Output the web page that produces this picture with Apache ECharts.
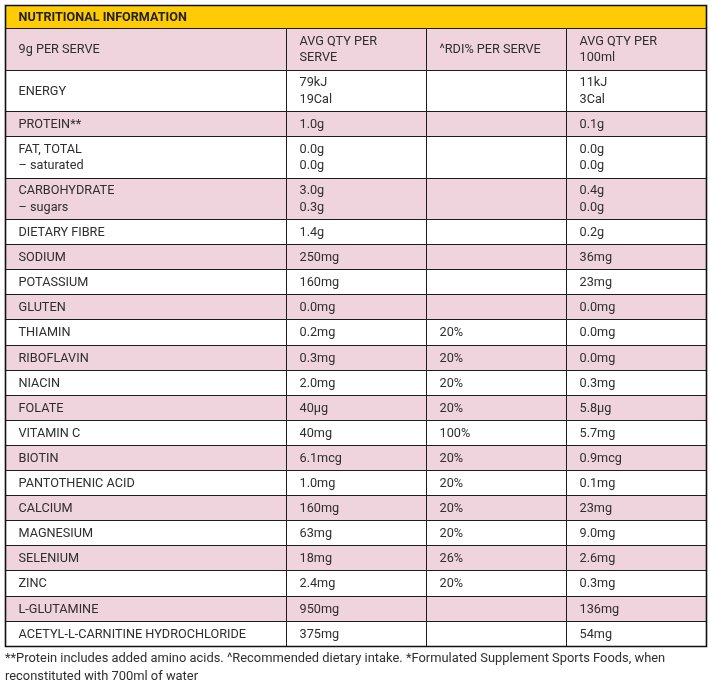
<!DOCTYPE html>
<html>
<head>
<meta charset="utf-8">
<script src="https://cdn.jsdelivr.net/npm/echarts@6/dist/echarts.min.js"></script>
<style>
  html, body { margin: 0; padding: 0; background: #fff; }
  #main { width: 710px; height: 680px; }
</style>
</head>
<body>
<div id="main"></div>
<script>
// table contents
const tableTitle = 'NUTRITIONAL INFORMATION';
const headers = ['9g PER SERVE', 'AVG QTY PER\nSERVE', '^RDI% PER SERVE', 'AVG QTY PER\n100ml'];
const nutrients = [
  'ENERGY', 'PROTEIN**', 'FAT, TOTAL\n– saturated', 'CARBOHYDRATE\n– sugars', 'DIETARY FIBRE',
  'SODIUM', 'POTASSIUM', 'GLUTEN', 'THIAMIN', 'RIBOFLAVIN', 'NIACIN', 'FOLATE', 'VITAMIN C',
  'BIOTIN', 'PANTOTHENIC ACID', 'CALCIUM', 'MAGNESIUM', 'SELENIUM', 'ZINC', 'L-GLUTAMINE',
  'ACETYL-L-CARNITINE HYDROCHLORIDE',
];
const perServe = [
  '79kJ\n19Cal', '1.0g', '0.0g\n0.0g', '3.0g\n0.3g', '1.4g', '250mg', '160mg', '0.0mg', '0.2mg',
  '0.3mg', '2.0mg', '40μg', '40mg', '6.1mcg', '1.0mg', '160mg', '63mg', '18mg', '2.4mg', '950mg',
  '375mg',
];
const rdiPerServe = [
  '', '', '', '', '', '', '', '', '20%', '20%', '20%', '20%', '100%', '20%', '20%', '20%', '20%',
  '26%', '20%', '', '',
];
const per100ml = [
  '11kJ\n3Cal', '0.1g', '0.0g\n0.0g', '0.4g\n0.0g', '0.2g', '36mg', '23mg', '0.0mg', '0.0mg',
  '0.0mg', '0.3mg', '5.8μg', '5.7mg', '0.9mcg', '0.1mg', '23mg', '9.0mg', '2.6mg', '0.3mg', '136mg',
  '54mg',
];
const footnote =
  '**Protein includes added amino acids. ^Recommended dietary intake. *Formulated Supplement Sports Foods, when\nreconstituted with 700ml of water';

// layout
const colWidths = [281, 140, 140, 140];
const titleHeight = 23;
const headerHeight = 42;
const singleRow = 25.1;
const doubleRow = 41.3;
const PINK = '#efd3dd';
const YELLOW = '#fecb05';
const TEXT = '#2e2e2e';
const FONT = 'Roboto';

const colEdges = [0];
colWidths.forEach((w) => colEdges.push(colEdges[colEdges.length - 1] + w));

// row 0 = title, row 1 = header, then the nutrient rows
const rows = [{ texts: [tableTitle] }, { texts: headers }];
nutrients.forEach((name, i) => {
  rows.push({ texts: [name, perServe[i], rdiPerServe[i], per100ml[i]] });
});
const rowEdges = [0];
rows.forEach((row, r) => {
  let h;
  if (r === 0) h = titleHeight;
  else if (r === 1) h = headerHeight;
  else h = row.texts.some((t) => t.indexOf('\n') >= 0) ? doubleRow : singleRow;
  rowEdges.push(rowEdges[rowEdges.length - 1] + h);
});
const totalWidth = colEdges[colEdges.length - 1];
const totalHeight = rowEdges[rowEdges.length - 1];

// cells: [colStart, colEnd, row]
const cells = [[0, 4, 0]];
for (let r = 1; r < rows.length; r++) {
  for (let c = 0; c < 4; c++) cells.push([c, c + 1, r]);
}

const crisp = (v) => Math.round(v) + 0.5;

function renderCell(params, api) {
  const c0 = api.value(0);
  const c1 = api.value(1);
  const r = api.value(2);
  const p0 = api.coord([colEdges[c0], rowEdges[r]]);
  const p1 = api.coord([colEdges[c1], rowEdges[r + 1]]);
  const x0 = crisp(p0[0]);
  const y0 = crisp(p0[1]);
  const x1 = crisp(p1[0]);
  const y1 = crisp(p1[1]);
  let fill;
  if (r === 0) fill = YELLOW;
  else if (r === 1) fill = PINK;
  else fill = (r - 2) % 2 === 1 ? PINK : '#fff';
  const text = r === 0 ? rows[0].texts[0] : rows[r].texts[c0];
  return {
    type: 'group',
    children: [
      {
        type: 'rect',
        shape: { x: x0, y: y0, width: x1 - x0, height: y1 - y0 },
        style: { fill: fill, stroke: '#1c1c1c', lineWidth: 1 },
      },
      {
        type: 'text',
        style: {
          x: x0 + 13,
          y: (y0 + y1) / 2 + 0.5,
          text: text,
          fill: r === 0 ? '#222' : TEXT,
          fontFamily: FONT,
          fontSize: r === 0 ? 12.6 : 12.7,
          fontWeight: r === 0 ? 'bold' : 'normal',
          lineHeight: 16.5,
          verticalAlign: 'middle',
          align: 'left',
        },
      },
    ],
  };
}

function renderFrame(params, api) {
  const p0 = api.coord([0, 0]);
  const p1 = api.coord([totalWidth, totalHeight]);
  return {
    type: 'rect',
    shape: {
      x: crisp(p0[0]),
      y: crisp(p0[1]),
      width: Math.round(p1[0]) - Math.round(p0[0]),
      height: Math.round(p1[1]) - Math.round(p0[1]),
    },
    style: { fill: 'none', stroke: '#111', lineWidth: 1.6 },
  };
}

const chart = echarts.init(document.getElementById('main'));
chart.setOption({
  animation: false,
  title: {
    text: footnote,
    left: 5,
    top: 650,
    padding: 0,
    textStyle: { fontFamily: FONT, fontSize: 12.9, fontWeight: 'normal', color: TEXT, lineHeight: 18 },
  },
  grid: { left: 5, top: 5, width: totalWidth, height: totalHeight },
  xAxis: { type: 'value', min: 0, max: totalWidth, show: false },
  yAxis: { type: 'value', min: 0, max: totalHeight, inverse: true, show: false },
  series: [
    {
      type: 'custom',
      renderItem: renderCell,
      data: cells,
      silent: true,
    },
    {
      type: 'custom',
      renderItem: renderFrame,
      data: [[0]],
      silent: true,
      z: 3,
    },
  ],
});
</script>
</body>
</html>
